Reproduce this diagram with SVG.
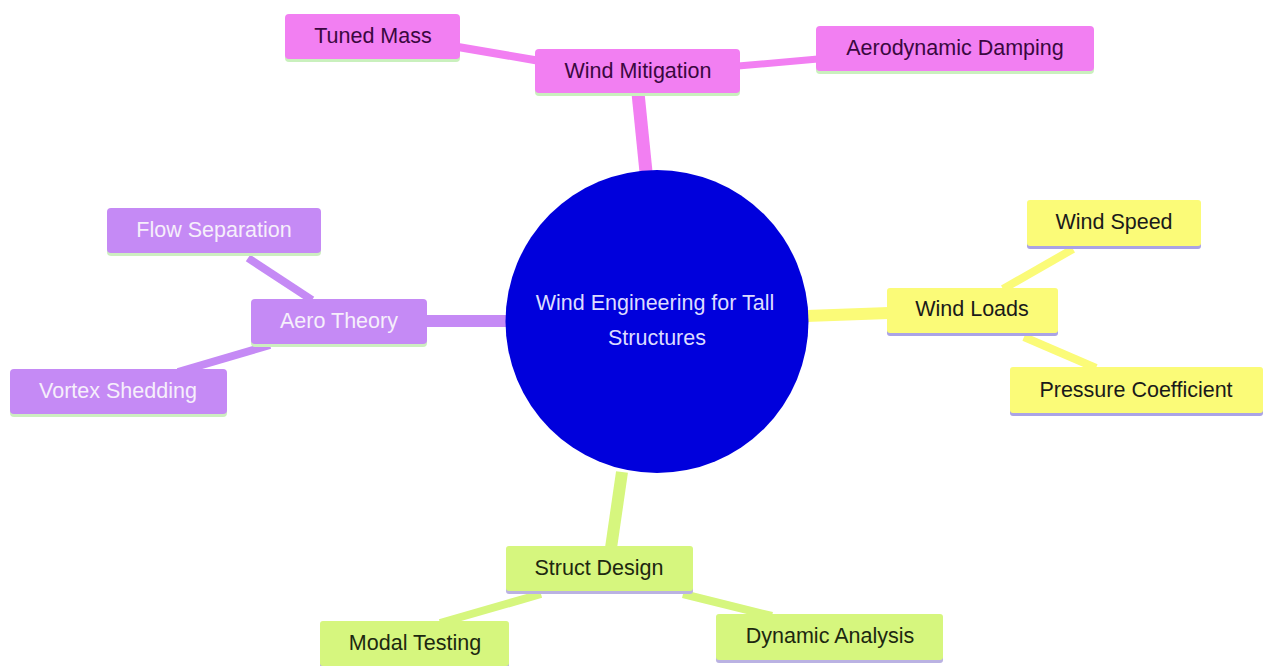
<svg xmlns="http://www.w3.org/2000/svg" width="1264" height="666" viewBox="0 0 1264 666">
<style>
text{font-family:"Liberation Sans",Arial,sans-serif;font-size:21.5px;text-anchor:middle;dominant-baseline:central}
.pk rect.b{fill:#f27ff2}.pk rect.u{fill:#c9f0bd}.pk text{fill:#3a0840}
.pu rect.b{fill:#c58af5}.pu rect.u{fill:#cdeec0}.pu text{fill:#f6effb}
.ye rect.b{fill:#fbfb78}.ye rect.u{fill:#aaa3e6}.ye text{fill:#1a1a1a}
.gr rect.b{fill:#d6f67e}.gr rect.u{fill:#bab2e2}.gr text{fill:#1d2810}
.c{fill:none;stroke-linecap:butt}
</style>
<rect width="1264" height="666" fill="#ffffff"/>
<g id="connectors">
<line class="c" x1="638" y1="93" x2="646" y2="172" stroke="#f27ff2" stroke-width="13"/>
<line class="c" x1="458" y1="47" x2="540" y2="61" stroke="#f27ff2" stroke-width="8"/>
<line class="c" x1="738" y1="66" x2="818" y2="59" stroke="#f27ff2" stroke-width="7"/>
<line class="c" x1="425" y1="321" x2="508" y2="321" stroke="#c58af5" stroke-width="12"/>
<line class="c" x1="248" y1="258" x2="312" y2="300" stroke="#c58af5" stroke-width="8"/>
<line class="c" x1="178" y1="372" x2="270" y2="345" stroke="#c58af5" stroke-width="8"/>
<line class="c" x1="806" y1="316" x2="889" y2="313" stroke="#fbfb78" stroke-width="12"/>
<line class="c" x1="1073" y1="249" x2="1003" y2="289" stroke="#fbfb78" stroke-width="8"/>
<line class="c" x1="1024" y1="337" x2="1096" y2="368" stroke="#fbfb78" stroke-width="8"/>
<line class="c" x1="622" y1="472" x2="611" y2="548" stroke="#d6f67e" stroke-width="12"/>
<line class="c" x1="541" y1="594" x2="440" y2="623" stroke="#d6f67e" stroke-width="8"/>
<line class="c" x1="683" y1="594" x2="772" y2="616" stroke="#d6f67e" stroke-width="8"/>
</g>
<g id="root">
<circle cx="657" cy="321.5" r="151.5" fill="#0000dc"/>
<text x="655" y="303" fill="#dcdcff">Wind Engineering for Tall</text>
<text x="657" y="338" fill="#dcdcff">Structures</text>
</g>
<g id="wind-mitigation" class="pk"><rect class="u" x="535" y="52" width="205" height="44" rx="4"/><rect class="b" x="535" y="49" width="205" height="44" rx="4"/><text x="638" y="71">Wind Mitigation</text></g>
<g id="tuned-mass" class="pk"><rect class="u" x="285" y="17" width="175" height="45" rx="4"/><rect class="b" x="285" y="14" width="175" height="45" rx="4"/><text x="373" y="36">Tuned Mass</text></g>
<g id="aerodynamic-damping" class="pk"><rect class="u" x="816" y="29" width="278" height="45" rx="4"/><rect class="b" x="816" y="26" width="278" height="45" rx="4"/><text x="955" y="48">Aerodynamic Damping</text></g>
<g id="aero-theory" class="pu"><rect class="u" x="251" y="302" width="176" height="45" rx="4"/><rect class="b" x="251" y="299" width="176" height="45" rx="4"/><text x="339" y="321">Aero Theory</text></g>
<g id="flow-separation" class="pu"><rect class="u" x="107" y="211" width="214" height="45" rx="4"/><rect class="b" x="107" y="208" width="214" height="45" rx="4"/><text x="214" y="230">Flow Separation</text></g>
<g id="vortex-shedding" class="pu"><rect class="u" x="10" y="372" width="217" height="45" rx="4"/><rect class="b" x="10" y="369" width="217" height="45" rx="4"/><text x="118" y="391">Vortex Shedding</text></g>
<g id="wind-loads" class="ye"><rect class="u" x="887" y="291" width="171" height="45" rx="3"/><rect class="b" x="887" y="288" width="171" height="45" rx="3"/><text x="972" y="309">Wind Loads</text></g>
<g id="wind-speed" class="ye"><rect class="u" x="1027" y="203" width="174" height="46" rx="3"/><rect class="b" x="1027" y="200" width="174" height="46" rx="3"/><text x="1114" y="222">Wind Speed</text></g>
<g id="pressure-coefficient" class="ye"><rect class="u" x="1010" y="370" width="253" height="46" rx="3"/><rect class="b" x="1010" y="367" width="253" height="46" rx="3"/><text x="1136" y="390">Pressure Coefficient</text></g>
<g id="struct-design" class="gr"><rect class="u" x="506" y="549" width="187" height="45" rx="3"/><rect class="b" x="506" y="546" width="187" height="45" rx="3"/><text x="599" y="568">Struct Design</text></g>
<g id="modal-testing" class="gr"><rect class="u" x="320" y="624" width="189" height="45" rx="3"/><rect class="b" x="320" y="621" width="189" height="45" rx="3"/><text x="415" y="643">Modal Testing</text></g>
<g id="dynamic-analysis" class="gr"><rect class="u" x="716" y="617" width="227" height="46" rx="3"/><rect class="b" x="716" y="614" width="227" height="46" rx="3"/><text x="830" y="636">Dynamic Analysis</text></g>
</svg>
